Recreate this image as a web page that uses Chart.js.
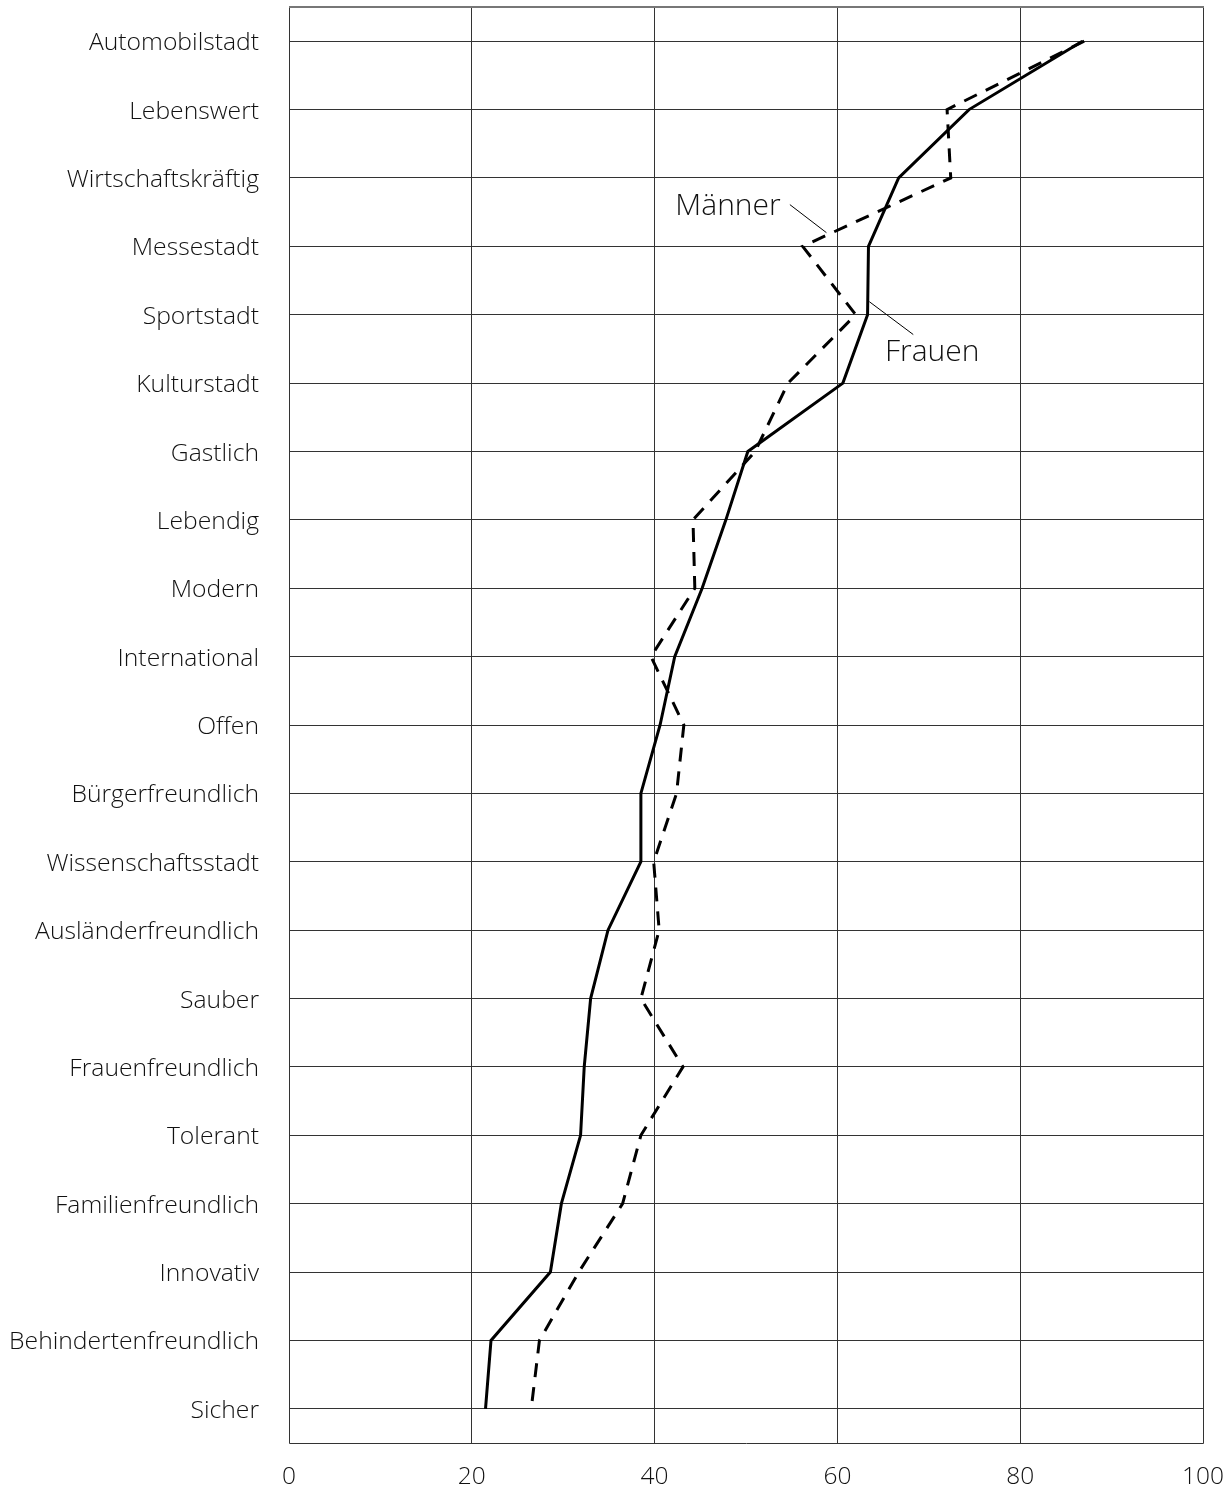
<!DOCTYPE html>
<html>
<head>
<meta charset="utf-8">
<script src="https://cdn.jsdelivr.net/npm/chart.js@4/dist/chart.umd.min.js"></script>
<style>
  html, body { margin: 0; padding: 0; background: #fff; }
  #wrap { width: 1231px; height: 1488px; }
</style>
</head>
<body>
<div id="wrap"><canvas id="chart" width="1231" height="1488"></canvas></div>
<script>
// Image attributes, top to bottom
const categories = [
  'Automobilstadt', 'Lebenswert', 'Wirtschaftskräftig', 'Messestadt', 'Sportstadt',
  'Kulturstadt', 'Gastlich', 'Lebendig', 'Modern', 'International', 'Offen',
  'Bürgerfreundlich', 'Wissenschaftsstadt', 'Ausländerfreundlich', 'Sauber',
  'Frauenfreundlich', 'Tolerant', 'Familienfreundlich', 'Innovativ',
  'Behindertenfreundlich', 'Sicher'
];

// Values in percent
const frauen = [86.8, 74.4, 66.7, 63.4, 63.3, 60.6, 50.2, 47.8, 45.2, 42.2, 40.6,
  38.5, 38.5, 34.9, 33.0, 32.3, 31.9, 29.8, 28.6, 22.1, 21.5];
const maenner = [87.0, 72.0, 72.4, 56.2, 62.0, 54.6, 51.0, 44.2, 44.4, 39.6, 43.2,
  42.4, 39.9, 40.5, 38.5, 43.1, 38.5, 36.5, 31.7, 27.4, 26.5];

const xTicks = [0, 20, 40, 60, 80, 100];

const FONT = '"Open Sans", "Noto Sans", sans-serif';

// Frame round the plot area
const framePlugin = {
  id: 'frame',
  beforeDatasetsDraw(chart) {
    const { ctx, chartArea: a } = chart;
    ctx.save();
    ctx.lineWidth = 1;
    ctx.strokeStyle = '#333';
    ctx.beginPath();
    ctx.moveTo(a.left + 0.5, a.bottom + 0.5);
    ctx.lineTo(a.left + 0.5, a.top + 0.5);
    ctx.moveTo(a.right + 0.5, a.top + 0.5);
    ctx.lineTo(a.right + 0.5, a.bottom + 0.5);
    ctx.lineTo(a.left + 0.5, a.bottom + 0.5);
    ctx.stroke();
    ctx.strokeStyle = '#777';
    ctx.lineWidth = 2;
    ctx.beginPath();
    ctx.moveTo(a.left, a.top);
    ctx.lineTo(a.right + 1, a.top);
    ctx.stroke();
    ctx.restore();
  }
};

// Labels with leader lines, drawn on top of the lines
const labelPlugin = {
  id: 'seriesLabels',
  afterDatasetsDraw(chart) {
    const { ctx, scales: { x, y } } = chart;
    ctx.save();
    ctx.strokeStyle = '#000';
    ctx.lineWidth = 1;

    // Männer
    ctx.beginPath();
    ctx.moveTo(x.getPixelForValue(54.8), y.getPixelForValue(2.39));
    ctx.lineTo(x.getPixelForValue(58.8), y.getPixelForValue(2.80));
    ctx.stroke();
    // Frauen
    ctx.beginPath();
    ctx.moveTo(x.getPixelForValue(63.5), y.getPixelForValue(3.81));
    ctx.lineTo(x.getPixelForValue(68.3), y.getPixelForValue(4.29));
    ctx.stroke();

    ctx.fillStyle = '#111';
    ctx.font = '300 30px ' + FONT;
    ctx.textBaseline = 'middle';
    ctx.textAlign = 'right';
    ctx.fillText('Männer', x.getPixelForValue(53.8), y.getPixelForValue(2.41));
    ctx.textAlign = 'left';
    ctx.fillText('Frauen', x.getPixelForValue(65.2), y.getPixelForValue(4.55));
    ctx.restore();
  }
};

new Chart(document.getElementById('chart'), {
  type: 'line',
  data: {
    labels: categories,
    datasets: [
      {
        label: 'Frauen',
        data: frauen,
        borderColor: '#000',
        borderWidth: 3,
        pointRadius: 0,
        tension: 0,
        fill: false
      },
      {
        label: 'Männer',
        data: maenner,
        borderColor: '#000',
        borderWidth: 3,
        borderDash: [14, 10],
        pointRadius: 0,
        tension: 0,
        fill: false
      }
    ]
  },
  options: {
    indexAxis: 'y',
    responsive: false,
    animation: false,
    layout: { padding: { top: 7, right: 28, left: 0, bottom: 0 } },
    plugins: {
      legend: { display: false },
      tooltip: { enabled: false }
    },
    scales: {
      x: {
        type: 'linear',
        min: 0,
        max: 100,
        afterBuildTicks: (scale) => { scale.ticks = xTicks.map(v => ({ value: v })); },
        afterFit: (scale) => {
          scale.height = 45;
          scale.paddingLeft = 0;
          scale.paddingRight = 0;
        },
        grid: { color: '#333', lineWidth: 1, drawTicks: false },
        border: { display: false },
        ticks: {
          color: '#111',
          padding: 19,
          font: { family: FONT, size: 24.5, weight: '300' }
        }
      },
      y: {
        type: 'category',
        offset: true,
        afterFit: (scale) => {
          scale.width = 289;
          scale.paddingTop = 0;
          scale.paddingBottom = 0;
        },
        grid: { offset: false, color: '#333', lineWidth: 1, drawTicks: false },
        border: { display: false },
        ticks: {
          color: '#111',
          padding: 30,
          labelOffset: 2,
          font: { family: FONT, size: 24.7, weight: '300' }
        }
      }
    }
  },
  plugins: [framePlugin, labelPlugin]
});
</script>
</body>
</html>
